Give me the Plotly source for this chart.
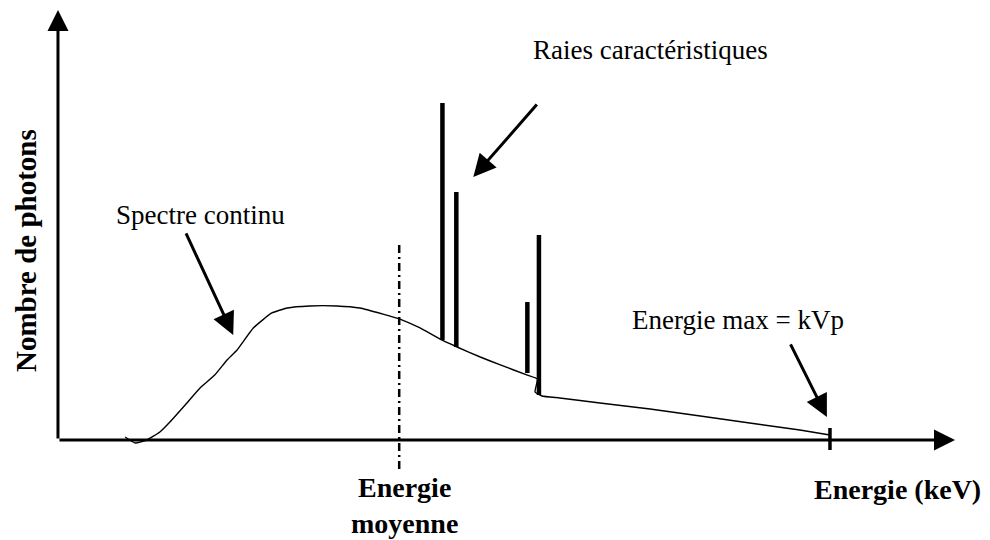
import plotly.graph_objects as go

# Continuous bremsstrahlung spectrum (energy in % of kVp, photon count in arbitrary units)
spectrum_energy = [8.7, 10.0, 11.5, 13.2, 14.5, 16.7, 18.4, 20.3, 21.9, 23.2, 25.3, 27.7,
                   29.7, 32.6, 36.1, 39.1, 42.1, 44.3, 46.9, 49.7, 51.7, 54.7, 57.3, 60.8,
                   62.1, 61.8, 62.7, 65.0, 70.2, 76.7, 83.2, 89.6, 96.1, 100.0]
spectrum_count = [2.2, -2.2, 0.0, 5.9, 13.3, 27.4, 38.5, 48.1, 59.3, 66.7, 83.0, 94.1,
                  97.8, 99.3, 99.3, 97.8, 93.3, 89.6, 83.0, 74.1, 68.9, 61.5, 55.6, 48.1,
                  45.2, 35.6, 32.6, 31.1, 27.4, 23.0, 17.8, 12.6, 7.4, 3.7]

# Characteristic lines: energy, base (on the continuum) and top
line_energy = [49.8, 51.6, 60.8, 62.3]
line_base = [74.1, 68.9, 49.6, 33.3]
line_top = [249.6, 183.7, 102.2, 151.9]

mean_energy = 44.2
kvp = 100.0

FONT = "Liberation Serif, Times New Roman, serif"
BLACK = "#000000"

fig = go.Figure()

# Continuum
fig.add_trace(go.Scatter(x=spectrum_energy, y=spectrum_count, mode="lines",
                         line=dict(color=BLACK, width=1.4, shape="spline", smoothing=0.4),
                         hoverinfo="skip", showlegend=False))

# Characteristic lines
for e, b, t in zip(line_energy, line_base, line_top):
    fig.add_trace(go.Scatter(x=[e, e], y=[b, t], mode="lines",
                             line=dict(color=BLACK, width=4.5),
                             hoverinfo="skip", showlegend=False))

# Mean energy marker (dash-dot)
fig.add_trace(go.Scatter(x=[mean_energy, mean_energy], y=[144.4, -22.2], mode="lines",
                         line=dict(color=BLACK, width=2.5, dash="8px,4px,2px,4px"),
                         hoverinfo="skip", showlegend=False))

# kVp tick on the energy axis
fig.add_trace(go.Scatter(x=[kvp, kvp], y=[-7.4, 8.9], mode="lines",
                         line=dict(color=BLACK, width=3.5),
                         hoverinfo="skip", showlegend=False))

annotations = []

def arrow(x_tip, y_tip, x_tail, y_tail, width=3, size=1.0):
    annotations.append(dict(x=x_tip, y=y_tip, ax=x_tail, ay=y_tail,
                            xref="x", yref="y", axref="x", ayref="y",
                            text="", showarrow=True, arrowhead=2,
                            arrowsize=size, arrowwidth=width, arrowcolor=BLACK,
                            standoff=0, startstandoff=0))

# Axes drawn as arrows
arrow(116.2, 0, 0, 0, width=3, size=1.4)
arrow(0, 318.5, 0, 0, width=3, size=1.4)

# Pointer arrows
arrow(53.8, 194.8, 62.2, 249.6, width=3, size=1.5)
arrow(22.7, 77.8, 16.5, 154.1, width=3, size=1.5)
arrow(99.6, 17.0, 94.8, 71.9, width=3, size=1.5)

def label(x, y, text, size=27, bold=False, angle=0):
    annotations.append(dict(x=x, y=y, xref="x", yref="y", showarrow=False,
                            text=f"<b>{text}</b>" if bold else text,
                            textangle=angle, xanchor="center", yanchor="middle",
                            font=dict(family=FONT, size=size, color=BLACK)))

label(76.7, 288.9, "Raies caractéristiques")
label(18.5, 166.7, "Spectre continu")
label(88.1, 88.9, "Energie max = kVp")
label(-4.15, 140.7, "Nombre de photons", size=29, bold=True, angle=-90)
label(108.7, -36.3, "Energie (keV)", size=28, bold=True)
label(44.9, -48.5, "Energie<br>moyenne", size=28, bold=True)

fig.update_layout(
    width=990, height=540,
    margin=dict(l=0, r=0, t=0, b=0),
    paper_bgcolor="white", plot_bgcolor="white",
    xaxis=dict(range=[-7.51, 120.73], visible=False, fixedrange=True),
    yaxis=dict(range=[-74.07, 325.93], visible=False, fixedrange=True),
    annotations=annotations,
    showlegend=False,
)

fig.write_html("out.html")
